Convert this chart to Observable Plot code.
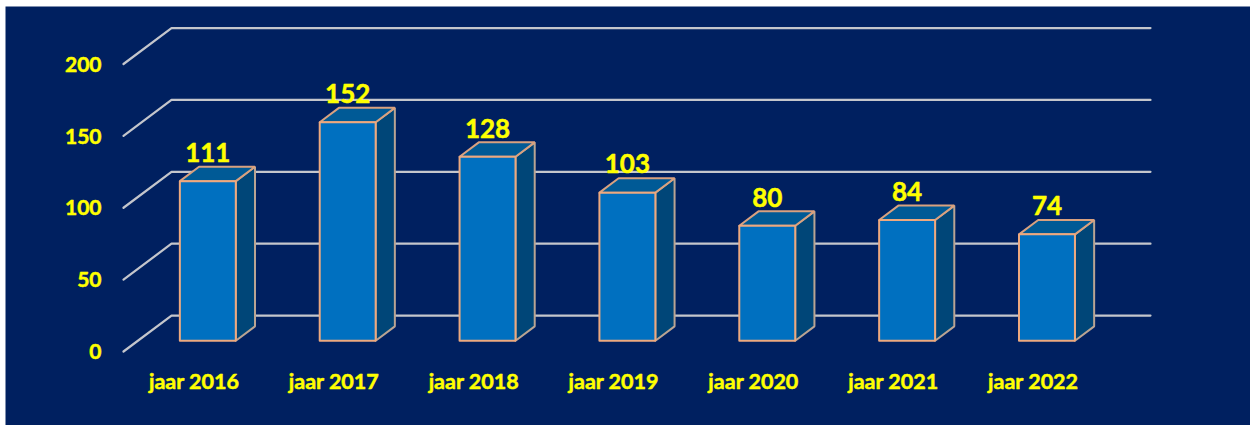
<!DOCTYPE html>
<html>
<head>
<meta charset="utf-8">
<script src="https://cdn.jsdelivr.net/npm/d3@7"></script>
<script src="https://cdn.jsdelivr.net/npm/@observablehq/plot@0.6"></script>
<style>
html,body{margin:0;padding:0;background:#fff}
svg{display:block}
</style>
</head>
<body>
<div id="chart"></div>
<script>
const categories = ["jaar 2016","jaar 2017","jaar 2018","jaar 2019","jaar 2020","jaar 2021","jaar 2022"];
const values = [111,152,128,103,80,84,74];
const yTicks = [0,50,100,150,200];

// oblique projection: depth z (0 front .. 1 back) shifts x and y in data units
const depthX = 48/139.85, depthY = 25;
const px = (x,z) => x + depthX*z;
const py = (y,z) => y + depthY*z;
const z0 = 0.3, z1 = 0.7, halfBar = 0.2;

const polygon = (id, pts) => pts.map(([x,y,z]) => ({id, x:px(x,z), y:py(y,z)}));
const frontFaces=[], sideFaces=[], topFaces=[];
values.forEach((v,i)=>{
  const c=i+0.5, l=c-halfBar, r=c+halfBar;
  frontFaces.push(...polygon(i,[[l,0,z0],[r,0,z0],[r,v,z0],[l,v,z0],[l,0,z0]]));
  sideFaces.push(...polygon(i,[[r,0,z0],[r,0,z1],[r,v,z1],[r,v,z0],[r,0,z0]]));
  topFaces.push(...polygon(i,[[l,v,z0],[r,v,z0],[r,v,z1],[l,v,z1],[l,v,z0]]));
});
const grid = yTicks.flatMap(t=>[
  {id:t,x:px(0,0),y:py(t,0)},
  {id:t,x:px(0,1),y:py(t,1)},
  {id:t,x:px(7,1),y:py(t,1)}
]);
const valueRows = values.map((v,i)=>({x:px(i+0.5,z0),y:py(v,z0),v}));
const catRows = categories.map((c,i)=>({x:i+0.5,y:0,c}));
const tickRows = yTicks.map(t=>({x:0,y:t}));

const font="Lato, Carlito, sans-serif";
const yellow="#FFFF00", edge="#EDA97F";
const face=(data,fill,stroke)=>Plot.line(data,{x:"x",y:"y",z:"id",fill,stroke,strokeWidth:2,strokeLinejoin:"miter",curve:"linear"});
const label=(data,opts)=>Plot.text(data,{x:"x",y:"y",fill:yellow,stroke:yellow,strokeWidth:0.5,fontWeight:700,fontFamily:font,...opts});

const chart = Plot.plot({
  width:1250,height:425,
  marginLeft:5,marginTop:6,marginRight:0,marginBottom:0,
  style:{background:"#fff",fontFamily:font},
  x:{type:"linear",domain:[0,7],range:[123,1102],axis:null},
  y:{type:"linear",domain:[0,200],range:[351,63.5],axis:null},
  marks:[
    Plot.frame({fill:"#002060",stroke:"none"}),
    Plot.line(grid,{x:"x",y:"y",z:"id",stroke:"#C4C6CC",strokeWidth:2.2,curve:"linear",strokeLinejoin:"miter"}),
    face(sideFaces,"#004678","#B9A493"),
    face(topFaces,"#005A96","#D9A17F"),
    face(frontFaces,"#0070C0",edge),
    label(valueRows,{text:d=>String(d.v),dy:-27.5,fontSize:26}),
    label(catRows,{text:"c",dy:31,dx:0.5,fontSize:21.5}),
    label(tickRows,{text:d=>String(d.y),dx:-22,dy:1,textAnchor:"end",fontSize:21})
  ]
});
document.getElementById("chart").append(chart);
</script>
</body>
</html>
